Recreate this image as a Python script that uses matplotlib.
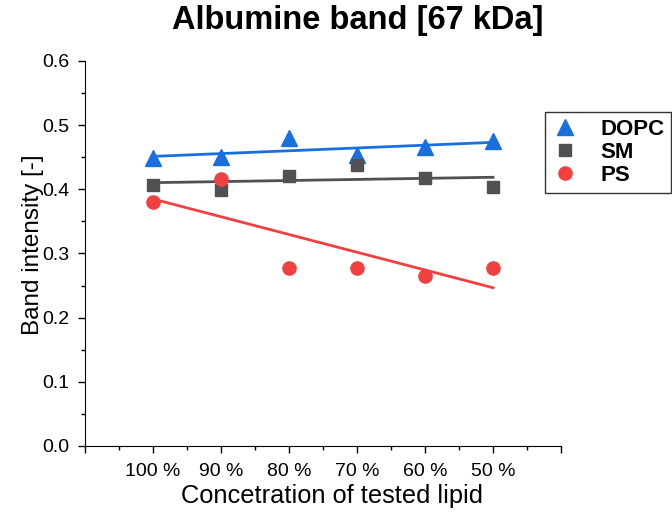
import numpy as np
import matplotlib
matplotlib.use('Agg')
import matplotlib.pyplot as plt
from matplotlib.ticker import MultipleLocator, FixedLocator

plt.rcParams['font.family'] = ['Liberation Sans', 'DejaVu Sans']

# 数据
categories = ['100 %', '90 %', '80 %', '70 %', '60 %', '50 %']
dopc = [0.448, 0.451, 0.480, 0.453, 0.466, 0.475]
sm = [0.407, 0.399, 0.421, 0.438, 0.418, 0.404]
ps = [0.380, 0.416, 0.278, 0.278, 0.265, 0.277]

x = np.arange(1, len(categories) + 1)

fig = plt.figure(figsize=(6.72, 5.12), dpi=100)
ax = fig.add_axes([0.1265, 0.129, 0.7085, 0.752])

series = [
    ('DOPC', dopc, '#1A6FDF', '^', 11),
    ('SM', sm, '#515151', 's', 8.5),
    ('PS', ps, '#F14040', 'o', 9.5),
]
for name, vals, c, m, ms in series:
    ax.plot(x, vals, linestyle='none', marker=m, markersize=ms, color=c, label=name)
    # 线性拟合
    k, b = np.polyfit(x, vals, 1)
    ax.plot(x, k * x + b, color=c, lw=2)

ax.set_xlim(0, 7)
ax.set_ylim(0, 0.6)
ax.xaxis.set_major_locator(FixedLocator(range(0, 8)))
ax.xaxis.set_minor_locator(MultipleLocator(0.5))
ax.set_xticklabels([''] + categories + [''])
ax.yaxis.set_major_locator(MultipleLocator(0.1))
ax.yaxis.set_minor_locator(MultipleLocator(0.05))
ax.yaxis.set_major_formatter(matplotlib.ticker.FormatStrFormatter('%.1f'))

ax.spines['top'].set_visible(False)
ax.spines['right'].set_visible(False)
ax.tick_params(which='major', direction='out', length=5, width=1, labelsize=14)
ax.tick_params(axis='x', which='major', pad=7)
ax.tick_params(axis='y', which='major', pad=6)
ax.tick_params(which='minor', direction='out', length=3, width=1)

ax.set_xlabel('Concetration of tested lipid', fontsize=18.3)
ax.xaxis.set_label_coords(0.519, -0.098)
ax.set_ylabel('Band intensity [-]', fontsize=17.5)
ax.yaxis.set_label_coords(-0.086, 0.523)
fig.text(0.533, 1 - 21 / 512, 'Albumine band [67 kDa]', fontsize=23.5, fontweight='bold',
         ha='center', va='center')

leg = ax.legend(loc='upper left', bbox_to_anchor=(0.811, 0.781), bbox_transform=fig.transFigure,
                prop={'weight': 'bold', 'size': 16}, frameon=True, fancybox=False,
                edgecolor='black', handlelength=1.2, handletextpad=1.0, labelspacing=0.1,
                borderpad=0.3, numpoints=1, borderaxespad=0)
leg.get_frame().set_linewidth(1)

fig.savefig('out.png', dpi=100)
